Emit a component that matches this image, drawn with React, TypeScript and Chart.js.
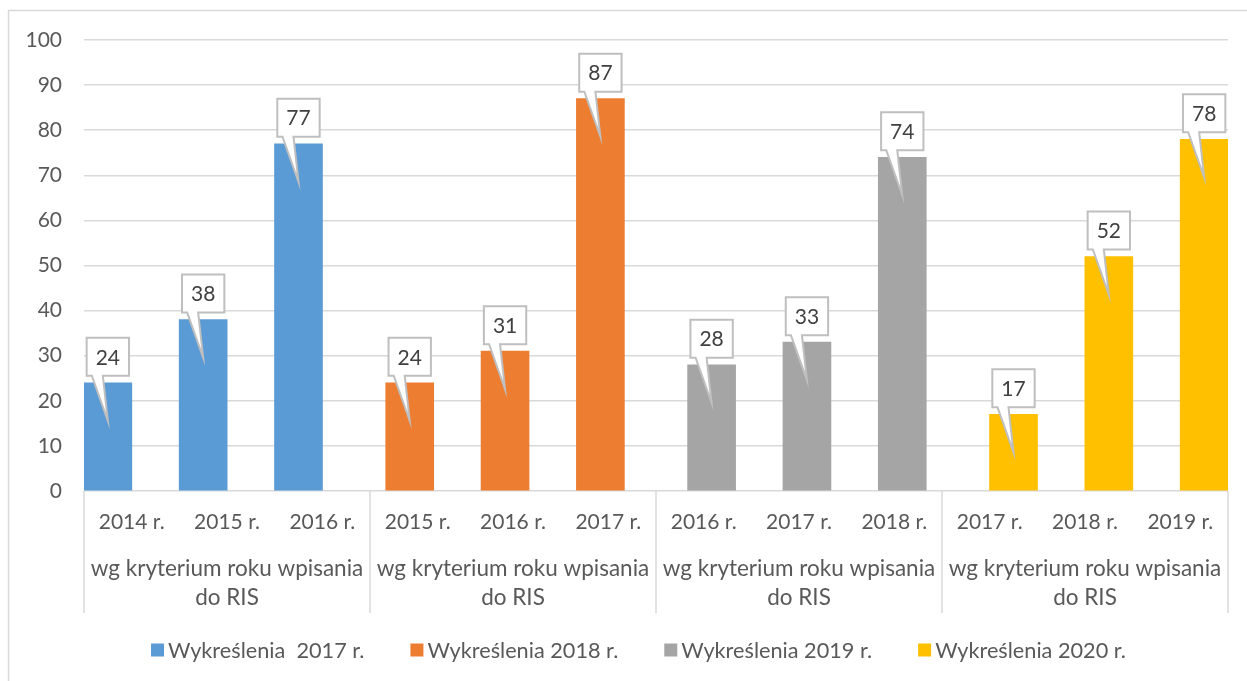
import React, { useEffect, useRef } from 'react';
import { Chart, registerables } from 'chart.js';

Chart.register(...registerables);

const seriesNames = ['Wykreślenia  2017 r.', 'Wykreślenia 2018 r.', 'Wykreślenia 2019 r.', 'Wykreślenia 2020 r.'];
const seriesColors = ['#5B9BD5', '#ED7D31', '#A5A5A5', '#FFC000'];

const years2017 = ['2014 r.', '2015 r.', '2016 r.'];
const years2018 = ['2015 r.', '2016 r.', '2017 r.'];
const years2019 = ['2016 r.', '2017 r.', '2018 r.'];
const years2020 = ['2017 r.', '2018 r.', '2019 r.'];

const values2017 = [24, 38, 77];
const values2018 = [24, 31, 87];
const values2019 = [28, 33, 74];
const values2020 = [17, 52, 78];

const groupLabelLines = ['wg kryterium roku wpisania', 'do RIS'];

const yMin = 0;
const yMax = 100;
const yStep = 10;

const FONT = 'Lato, "Noto Sans", sans-serif';
const TEXT_COLOR = '#595959';
const GRID_COLOR = '#D9D9D9';

const groupYears = [years2017, years2018, years2019, years2020];
const groupValues = [values2017, values2018, values2019, values2020];

export default function App() {
  const canvasRef = useRef<HTMLCanvasElement | null>(null);

  useEffect(() => {
    const canvas = canvasRef.current;
    if (!canvas) return;

    const perGroup = groupYears[0].length;
    const nGroups = groupYears.length;
    const nCats = perGroup * nGroups;
    const nSeries = seriesNames.length;

    const datasets = groupValues.map((vals, s) => ({
      label: seriesNames[s],
      backgroundColor: seriesColors[s],
      borderWidth: 0,
      grouped: false,
      barThickness: 48,
      data: vals.map((v, j) => ({ x: s * perGroup + j + (s - (nSeries - 1) / 2) / 6, y: v })),
    }));

    const decorPlugin = {
      id: 'decor',
      beforeDraw(chart: any) {
        const ctx = chart.ctx;
        ctx.save();
        ctx.fillStyle = '#FFFFFF';
        ctx.fillRect(0, 0, chart.width, chart.height);
        ctx.strokeStyle = GRID_COLOR;
        ctx.lineWidth = 1.5;
        ctx.strokeRect(8.5, 10.5, chart.width + 20, chart.height + 20);
        ctx.restore();
      },
      afterDatasetsDraw(chart: any) {
        const ctx = chart.ctx;
        ctx.save();
        ctx.font = `21px ${FONT}`;
        ctx.textAlign = 'center';
        ctx.textBaseline = 'middle';
        chart.data.datasets.forEach((ds: any, di: number) => {
          const meta = chart.getDatasetMeta(di);
          meta.data.forEach((el: any, i: number) => {
            const txt = String(ds.data[i].y);
            const w = ctx.measureText(txt).width + 18;
            const h = 38;
            const bottom = el.y - 7;
            const top = bottom - h;
            const left = el.x - w / 2;
            const right = el.x + w / 2;
            const tipY = el.y + 38;
            ctx.beginPath();
            ctx.moveTo(left, top);
            ctx.lineTo(right, top);
            ctx.lineTo(right, bottom);
            ctx.lineTo(el.x - 5, bottom);
            ctx.lineTo(el.x, tipY);
            ctx.lineTo(el.x - 16, bottom);
            ctx.lineTo(left, bottom);
            ctx.closePath();
            ctx.fillStyle = '#FFFFFF';
            ctx.fill();
            ctx.strokeStyle = '#BFBFBF';
            ctx.lineWidth = 2;
            ctx.stroke();
            ctx.fillStyle = '#404040';
            ctx.fillText(txt, el.x, (top + bottom) / 2 + 1);
          });
        });
        ctx.restore();
      },
      afterDraw(chart: any) {
        const ctx = chart.ctx;
        const xs = chart.scales.x;
        const area = chart.chartArea;
        const base = area.bottom;
        ctx.save();
        // separators
        ctx.strokeStyle = GRID_COLOR;
        ctx.lineWidth = 1.5;
        for (let g = 0; g <= nGroups; g++) {
          const px = Math.round(xs.getPixelForValue(g * perGroup - 0.5));
          ctx.beginPath();
          ctx.moveTo(px, base);
          ctx.lineTo(px, base + 122);
          ctx.stroke();
        }
        // category labels
        ctx.fillStyle = TEXT_COLOR;
        ctx.font = `21px ${FONT}`;
        ctx.textAlign = 'center';
        ctx.textBaseline = 'middle';
        groupYears.forEach((yrs, g) => {
          yrs.forEach((lab, j) => {
            const px = xs.getPixelForValue(g * perGroup + j);
            ctx.fillText(lab, px, base + 31);
          });
        });
        ctx.font = `22.5px ${FONT}`;
        groupYears.forEach((yrs, g) => {
          const gx = xs.getPixelForValue(g * perGroup + (perGroup - 1) / 2);
          groupLabelLines.forEach((line, li) => {
            ctx.fillText(line, gx, base + 78 + li * 29);
          });
        });
        // legend
        ctx.font = `21.7px ${FONT}`;
        const box = 13;
        const gapBoxText = 4;
        const gapItems = 46;
        const widths = seriesNames.map((n) => box + gapBoxText + ctx.measureText(n).width);
        const total = widths.reduce((a, b) => a + b, 0) + gapItems * (widths.length - 1);
        let lx = 638.5 - total / 2;
        const ly = 650;
        ctx.textAlign = 'left';
        seriesNames.forEach((n, i) => {
          ctx.fillStyle = seriesColors[i];
          ctx.fillRect(lx, ly - box / 2, box, box);
          ctx.fillStyle = TEXT_COLOR;
          ctx.fillText(n, lx + box + gapBoxText, ly + 1);
          lx += widths[i] + gapItems;
        });
        ctx.restore();
      },
    };

    const chart = new Chart(canvas, {
      type: 'bar',
      data: { datasets: datasets as any },
      options: {
        animation: false,
        responsive: false,
        maintainAspectRatio: false,
        layout: { padding: { left: 0, right: 19, top: 40, bottom: 190 } },
        plugins: {
          legend: { display: false },
          tooltip: { enabled: false },
        },
        scales: {
          x: {
            type: 'linear',
            min: -0.5,
            max: nCats - 0.5,
            offset: false,
            display: false,
          },
          y: {
            min: yMin,
            max: yMax,
            afterFit: (s: any) => {
              s.width = 84;
            },
            ticks: {
              stepSize: yStep,
              color: TEXT_COLOR,
              font: { family: FONT, size: 21 },
              padding: 22,
            },
            grid: { color: GRID_COLOR, lineWidth: 1.5, drawTicks: false },
            border: { display: false },
          },
        },
      },
      plugins: [decorPlugin],
    });

    return () => chart.destroy();
  }, []);

  return (
    <div style={{ position: 'fixed', left: 0, top: 0, width: 1247, height: 681 }}>
      <canvas ref={canvasRef} width={1247} height={681} />
    </div>
  );
}
